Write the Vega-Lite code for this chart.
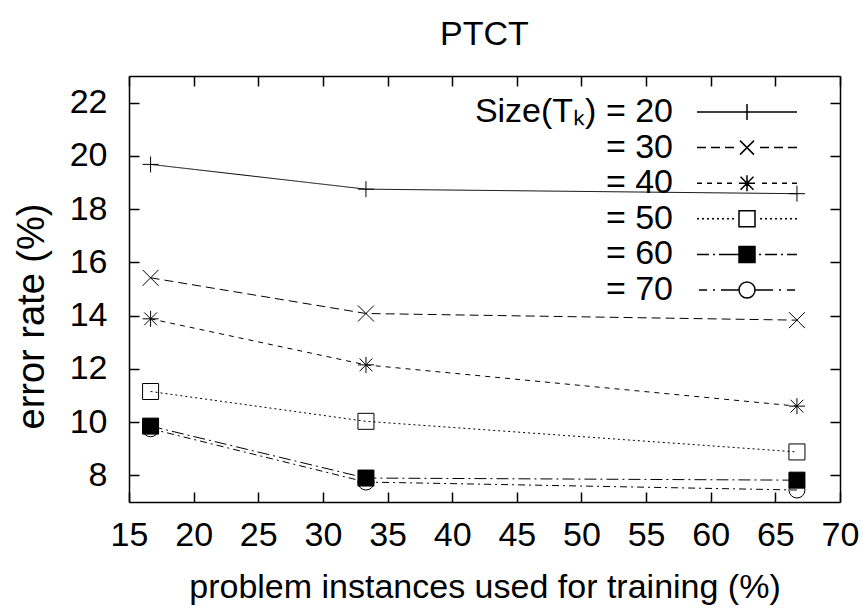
{
  "$schema": "https://vega.github.io/schema/vega-lite/v6.json",
  "width": 711,
  "height": 426,
  "autosize": "none",
  "padding": {"left": 129, "top": 76, "right": 23, "bottom": 110},
  "background": "white",
  "config": {
    "view": {"stroke": null},
    "font": "Liberation Sans",
    "axis": {
      "domainColor": "black", "domainWidth": 1.5, "tickColor": "black", "tickWidth": 1.5,
      "tickSize": -10, "grid": false, "labelFont": "Liberation Sans", "labelFontSize": 34,
      "labelColor": "black", "titleFont": "Liberation Sans", "titleFontSize": 34,
      "titleFontWeight": "normal", "titleColor": "black", "labelFlush": false, "labelOverlap": false
    }
  },
  "title": {"text": "PTCT", "fontSize": 34, "font": "Liberation Sans", "fontWeight": "normal", "color": "black", "baseline": "alphabetic", "offset": -4, "frame": "group"},
  "data": {"values": [
    {"x": 16.67, "size": 20, "err": 19.68}, {"x": 33.33, "size": 20, "err": 18.75}, {"x": 66.67, "size": 20, "err": 18.58},
    {"x": 16.67, "size": 30, "err": 15.42}, {"x": 33.33, "size": 30, "err": 14.08}, {"x": 66.67, "size": 30, "err": 13.83},
    {"x": 16.67, "size": 40, "err": 13.88}, {"x": 33.33, "size": 40, "err": 12.15}, {"x": 66.67, "size": 40, "err": 10.6},
    {"x": 16.67, "size": 50, "err": 11.15}, {"x": 33.33, "size": 50, "err": 10.03}, {"x": 66.67, "size": 50, "err": 8.88},
    {"x": 16.67, "size": 60, "err": 9.85}, {"x": 33.33, "size": 60, "err": 7.9}, {"x": 66.67, "size": 60, "err": 7.82},
    {"x": 16.67, "size": 70, "err": 9.75}, {"x": 33.33, "size": 70, "err": 7.75}, {"x": 66.67, "size": 70, "err": 7.45}
  ]},
  "resolve": {
    "scale": {"shape": "independent", "fill": "independent", "strokeDash": "independent"},
    "axis": {"x": "independent", "y": "independent"}
  },
  "layer": [
    {
      "mark": {"type": "line", "color": "black", "strokeWidth": 1},
      "encoding": {
        "x": {"field": "x", "type": "quantitative", "scale": {"domain": [15, 70], "nice": false, "zero": false},
          "axis": {"orient": "bottom", "values": [15, 20, 25, 30, 35, 40, 45, 50, 55, 60, 65, 70], "labelPadding": 26,
            "title": "problem instances used for training (%)", "titleBaseline": "middle", "titleY": 85, "titleX": 355.5}},
        "y": {"field": "err", "type": "quantitative", "scale": {"domain": [7, 23], "nice": false, "zero": false},
          "axis": {"orient": "left", "values": [8, 10, 12, 14, 16, 18, 20, 22], "labelPadding": 32,
            "title": "error rate (%)", "titleFontSize": 38, "titleAngle": 270, "titleBaseline": "middle", "titleAlign": "center", "titleX": -97, "titleY": 240}},
        "detail": {"field": "size", "type": "nominal"},
        "strokeDash": {"field": "size", "type": "nominal", "legend": null,
          "scale": {"domain": [20, 30, 40, 50, 60, 70], "range": [[1, 0], [9, 5], [5, 5], [2, 3], [12, 4, 2, 4], [7, 4, 2, 4]]}}
      }
    },
    {
      "mark": {"type": "point", "stroke": "black", "strokeWidth": 1, "size": 256, "opacity": 1},
      "encoding": {
        "x": {"field": "x", "type": "quantitative",
          "axis": {"orient": "top", "values": [15, 20, 25, 30, 35, 40, 45, 50, 55, 60, 65, 70], "labels": false, "title": null}},
        "y": {"field": "err", "type": "quantitative",
          "axis": {"orient": "right", "values": [8, 10, 12, 14, 16, 18, 20, 22], "labels": false, "title": null}},
        "shape": {"field": "size", "type": "nominal", "legend": null,
          "scale": {"domain": [20, 30, 40, 50, 60, 70], "range": [
            "M-1,0H1M0,-1V1",
            "M-1,-1L1,1M-1,1L1,-1",
            "M-1,0H1M0,-1V1M-0.8,-0.8L0.8,0.8M-0.8,0.8L0.8,-0.8",
            "M-1,-1H1V1H-1Z",
            "M-1,-1H1V1H-1Z",
            "circle"]}},
        "fill": {"field": "size", "type": "nominal", "legend": null,
          "scale": {"domain": [20, 30, 40, 50, 60, 70], "range": ["transparent", "transparent", "transparent", "transparent", "black", "transparent"]}}
      }
    },
    {
      "transform": [{"filter": "false"}],
      "mark": {"type": "point", "stroke": "black", "strokeWidth": 1, "size": 400, "opacity": 1},
      "encoding": {
        "x": {"field": "x", "type": "quantitative", "axis": null},
        "y": {"field": "err", "type": "quantitative", "axis": null},
        "shape": {"field": "size", "type": "nominal",
          "scale": {"domain": [20, 30, 40, 50, 60, 70], "range": [
            "M-5,0H5M-0.8,0H0.8M0,-0.8V0.8",
            "M-5,0H-4.1M-3.6,0H-2.7M-2.2,0H-1.3M1.3,0H2.2M2.7,0H3.6M4.1,0H5M-0.7,-0.7L0.7,0.7M-0.7,0.7L0.7,-0.7",
            "M-5,0H-4.5M-4,0H-3.5M-3,0H-2.5M-2,0H-1.5M1.5,0H2M2.5,0H3M3.5,0H4M4.5,0H5M-0.8,0H0.8M0,-0.8V0.8M-0.65,-0.65L0.65,0.65M-0.65,0.65L0.65,-0.65",
            "M-5,0H-4.8M-4.5,0H-4.3M-4,0H-3.8M-3.5,0H-3.3M-3,0H-2.8M-2.5,0H-2.3M-2,0H-1.8M-1.5,0H-1.3M1.3,0H1.5M1.8,0H2M2.3,0H2.5M2.8,0H3M3.3,0H3.5M3.8,0H4M4.3,0H4.5M4.8,0H5M-0.8,-0.8H0.8V0.8H-0.8Z",
            "M-5,0H-3.8M-3.4,0H-3.2M-2.8,0H-0.8M1.2,0H1.4M1.8,0H3M3.4,0H3.6M4,0H5M-0.8,-0.8H0.8V0.8H-0.8ZM-0.8,-0.7H0.8M-0.8,-0.6H0.8M-0.8,-0.5H0.8M-0.8,-0.4H0.8M-0.8,-0.3H0.8M-0.8,-0.2H0.8M-0.8,-0.1H0.8M-0.8,0H0.8M-0.8,0.1H0.8M-0.8,0.2H0.8M-0.8,0.3H0.8M-0.8,0.4H0.8M-0.8,0.5H0.8M-0.8,0.6H0.8M-0.8,0.7H0.8",
            "M-4.8,0H-4M-3.4,0H-3.2M-2.6,0H-0.8M0.8,0H2.6M3.2,0H3.4M4,0H4.8M0.8,0A0.8,0.8,0,1,1,-0.8,0A0.8,0.8,0,1,1,0.8,0"]},
          "legend": {
            "title": null, "orient": "none", "legendX": 601, "legendY": 19, "padding": 0, "rowPadding": 1.6,
            "symbolSize": 400,
            "labelAlign": "right", "labelOffset": -91, "labelFontSize": 34, "labelFont": "Liberation Sans", "labelColor": "black",
            "labelLimit": 1000, "labelBaseline": "middle",
            "labelExpr": "datum.value == 20 ? 'Size(T\u2096) = 20' : '= ' + datum.label",
            "encode": {"symbols": {"update": {"stroke": {"value": "black"}, "strokeWidth": {"value": 1}, "strokeOpacity": {"value": 1}, "opacity": {"value": 1}}}}
          }}
      }
    }
  ]
}
